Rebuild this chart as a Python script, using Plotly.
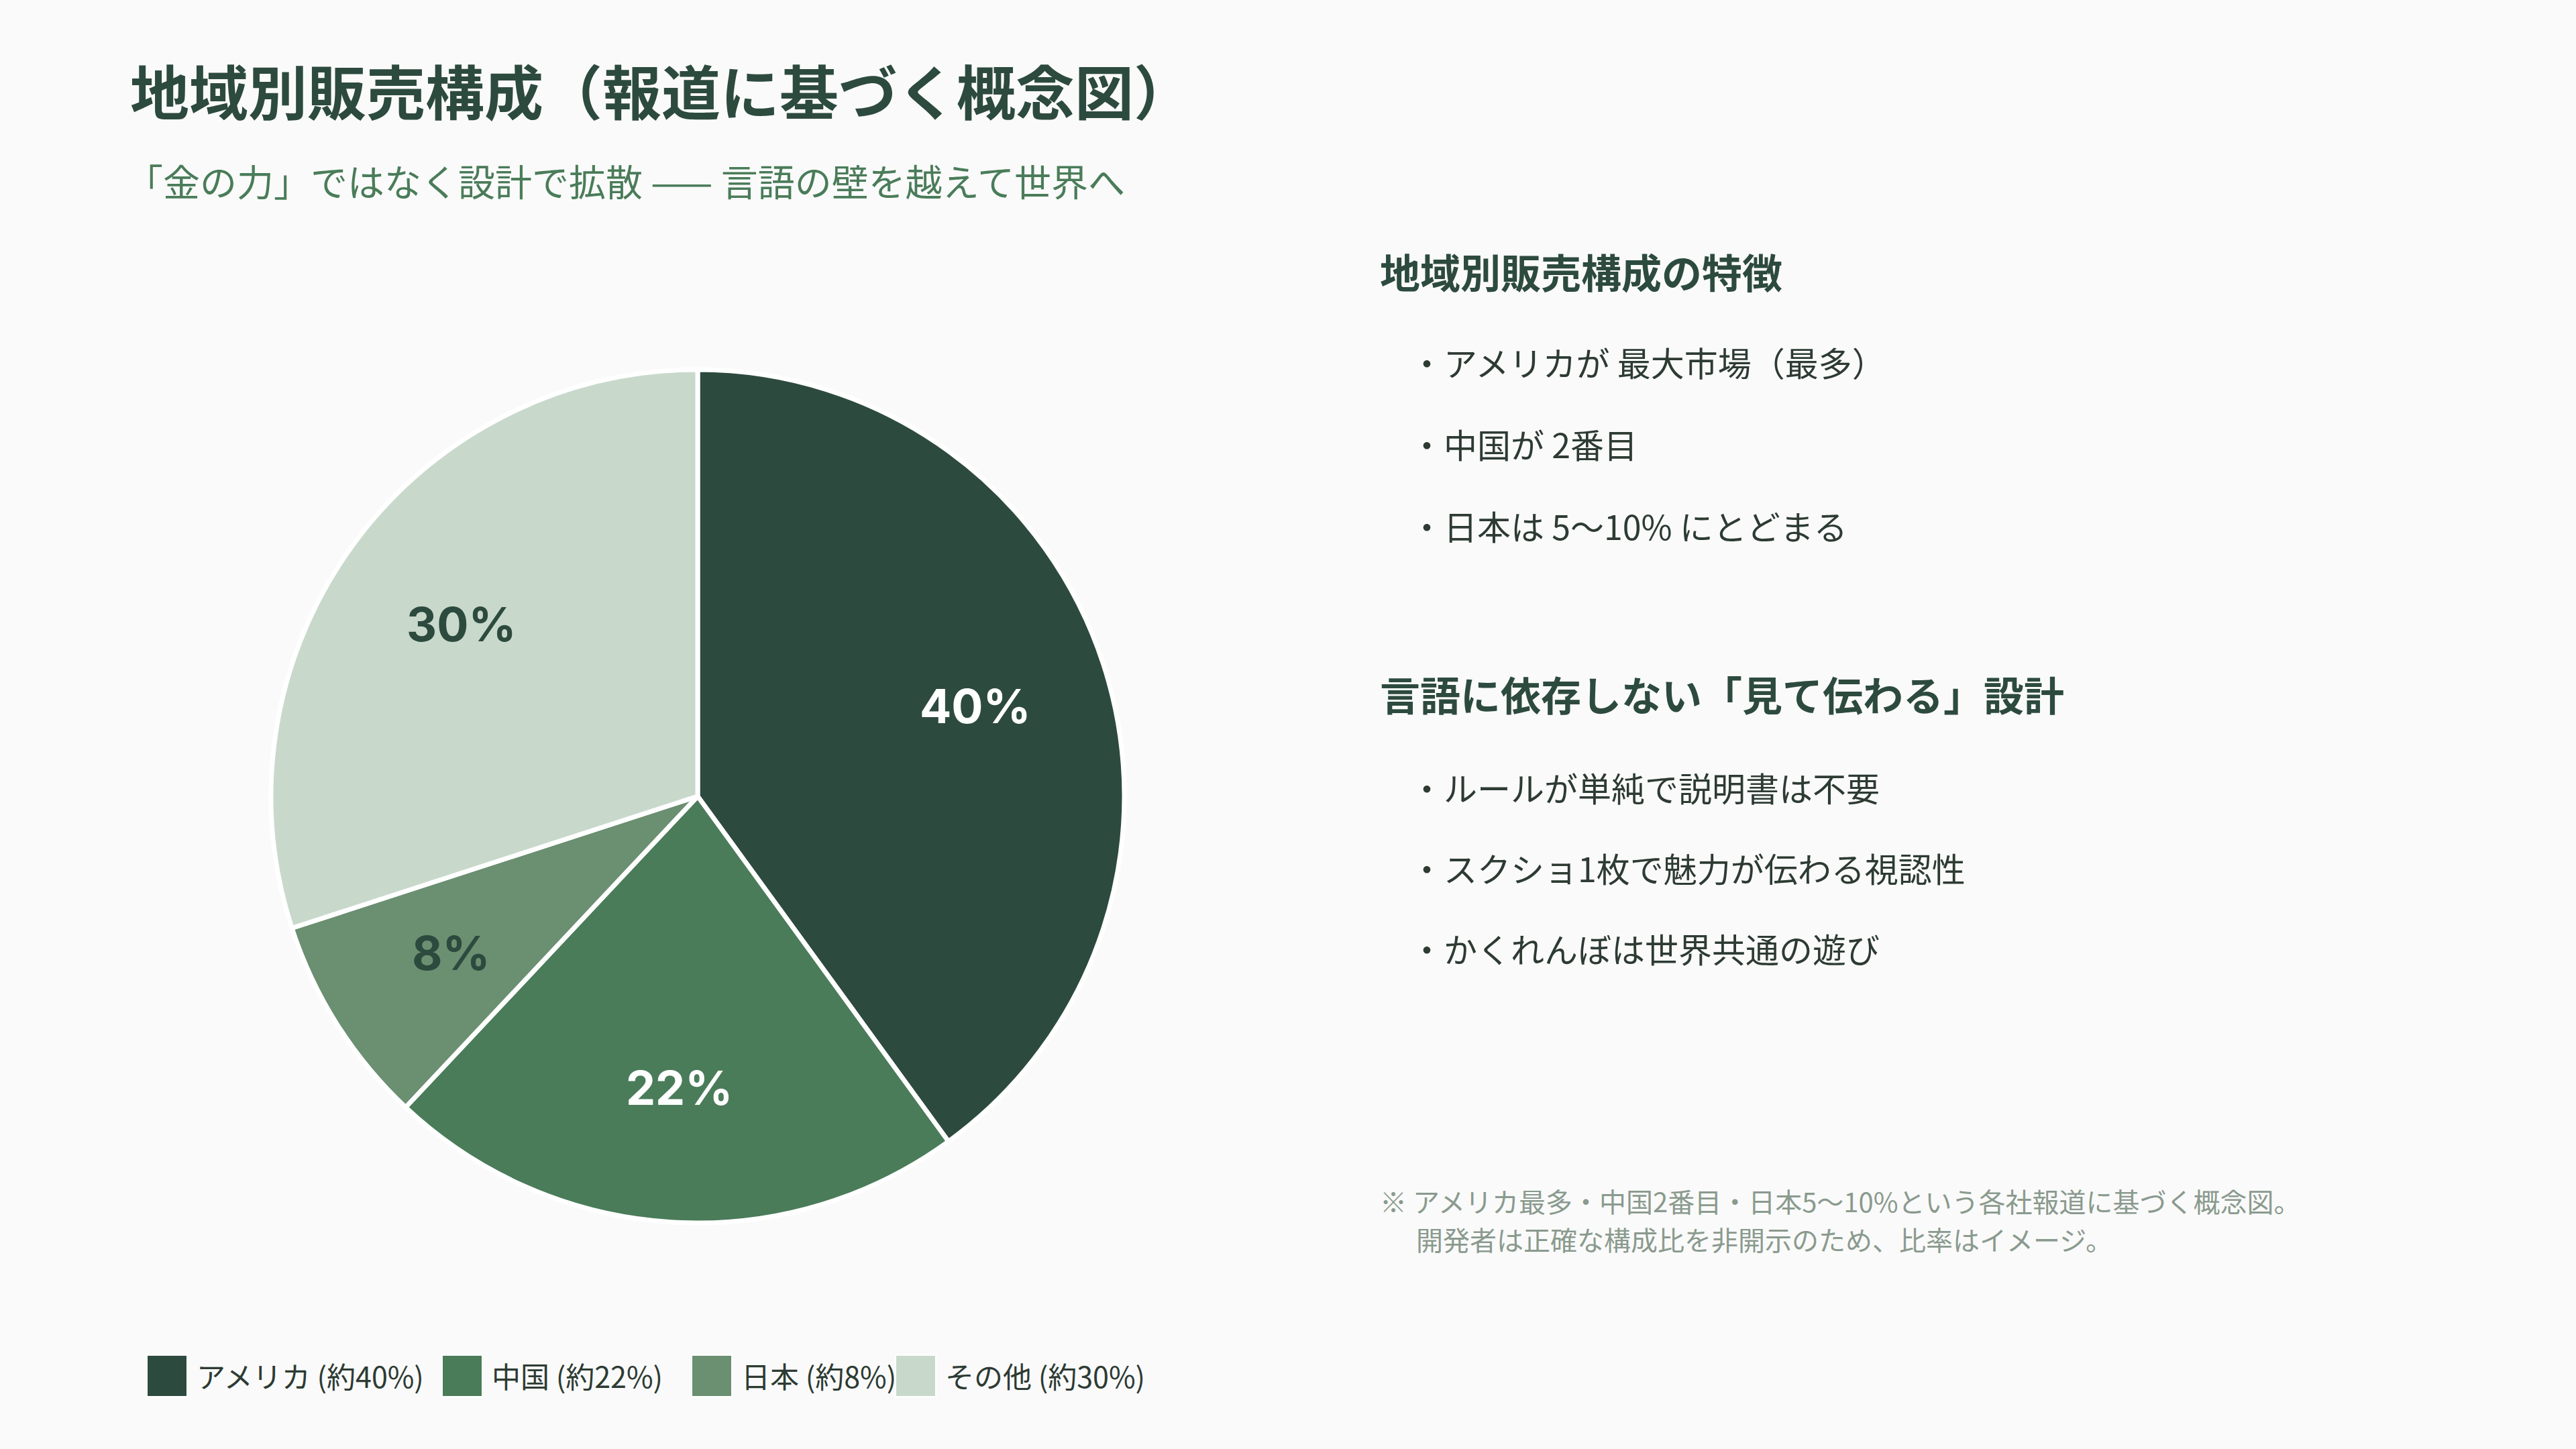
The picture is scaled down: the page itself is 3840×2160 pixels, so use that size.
import math
import plotly.graph_objects as go

# ---- data ----
regions = ["アメリカ", "中国", "日本", "その他"]
shares = [40, 22, 8, 30]
slice_colors = ["#2d4a3e", "#4a7c59", "#6b8f71", "#c8d9cc"]
label_colors = ["#ffffff", "#ffffff", "#2d4a3e", "#2d4a3e"]

title_text = "地域別販売構成（報道に基づく概念図）"
subtitle_text = "「金の力」ではなく設計で拡散 —— 言語の壁を越えて世界へ"
heading1 = "地域別販売構成の特徴"
bullets1 = ["・アメリカが 最大市場（最多）", "・中国が 2番目", "・日本は 5〜10% にとどまる"]
heading2 = "言語に依存しない「見て伝わる」設計"
bullets2 = ["・ルールが単純で説明書は不要", "・スクショ1枚で魅力が伝わる視認性", "・かくれんぼは世界共通の遊び"]
note_lines = ["※ アメリカ最多・中国2番目・日本5〜10%という各社報道に基づく概念図。",
              "開発者は正確な構成比を非開示のため、比率はイメージ。"]

W, H = 3840, 2160
JP = "Noto Sans CJK JP"
BG = "#fafafa"

def py(px):
    return 1 - px / H

def pxx(px):
    return px / W

cx, cy, r = 1040, 1187, 636

fig = go.Figure()
fig.add_trace(go.Pie(
    labels=regions,
    values=shares,
    sort=False,
    direction="clockwise",
    rotation=0,
    marker=dict(colors=slice_colors, line=dict(color="#ffffff", width=7)),
    textinfo="none",
    hoverinfo="label+percent",
    showlegend=False,
    domain=dict(x=[pxx(cx - r), pxx(cx + r)], y=[py(cy + r), py(cy - r)]),
))

ann = []
# slice percentage labels, placed along each slice's bisector
total = sum(shares)
acc = 0
lab_r = 0.685 * r
for v, c in zip(shares, label_colors):
    mid = (acc + v / 2) / total * 2 * math.pi
    acc += v
    lx = cx + lab_r * math.sin(mid)
    ly = cy - lab_r * math.cos(mid)
    ann.append(dict(text=f"{v}%", x=pxx(lx), y=py(ly), xanchor="center", yanchor="middle",
                    font=dict(family="Inter", size=70, color=c, weight="bold")))

ann.append(dict(text=title_text, x=pxx(192), y=py(132), xanchor="left", yanchor="middle",
                font=dict(family=JP, size=88, color="#2d4a3e", weight="bold")))
ann.append(dict(text=subtitle_text, x=pxx(186), y=py(268), xanchor="left", yanchor="middle",
                font=dict(family=JP, size=55, color="#4a7c59")))

ann.append(dict(text=heading1, x=pxx(2055), y=py(403), xanchor="left", yanchor="middle",
                font=dict(family=JP, size=60, color="#2d4a3e", weight="bold")))
for i, b in enumerate(bullets1):
    ann.append(dict(text=b, x=pxx(2100), y=py(539 + i * 122), xanchor="left", yanchor="middle",
                    font=dict(family=JP, size=50, color="#2d3b33")))
ann.append(dict(text=heading2, x=pxx(2055), y=py(1033), xanchor="left", yanchor="middle",
                font=dict(family=JP, size=60, color="#2d4a3e", weight="bold")))
for i, b in enumerate(bullets2):
    ann.append(dict(text=b, x=pxx(2100), y=py(1173 + i * 120), xanchor="left", yanchor="middle",
                    font=dict(family=JP, size=50, color="#2d3b33")))

ann.append(dict(text=note_lines[0], x=pxx(2055), y=py(1790), xanchor="left", yanchor="middle",
                font=dict(family=JP, size=40, color="#8a9a8e")))
ann.append(dict(text=note_lines[1], x=pxx(2109), y=py(1847), xanchor="left", yanchor="middle",
                font=dict(family=JP, size=40, color="#8a9a8e")))

# legend (custom, large swatches)
legend_x = [219, 659, 1031, 1335]
shapes = []
for name, v, col, lx in zip(regions, shares, slice_colors, legend_x):
    shapes.append(dict(type="rect", xref="paper", yref="paper",
                       x0=pxx(lx), x1=pxx(lx + 60), y0=py(2082), y1=py(2020),
                       fillcolor=col, line=dict(color="#ffffff", width=2)))
    ann.append(dict(text=f"{name} (約{v}%)", x=pxx(lx + 72), y=py(2050), xanchor="left", yanchor="middle",
                    font=dict(family=JP, size=43, color="#2d3b33")))

for a in ann:
    a.update(xref="paper", yref="paper", showarrow=False)

fig.update_layout(
    width=W, height=H,
    margin=dict(l=0, r=0, t=0, b=0),
    paper_bgcolor=BG, plot_bgcolor=BG,
    annotations=ann, shapes=shapes,
    showlegend=False,
)

fig.write_html("out.html")
